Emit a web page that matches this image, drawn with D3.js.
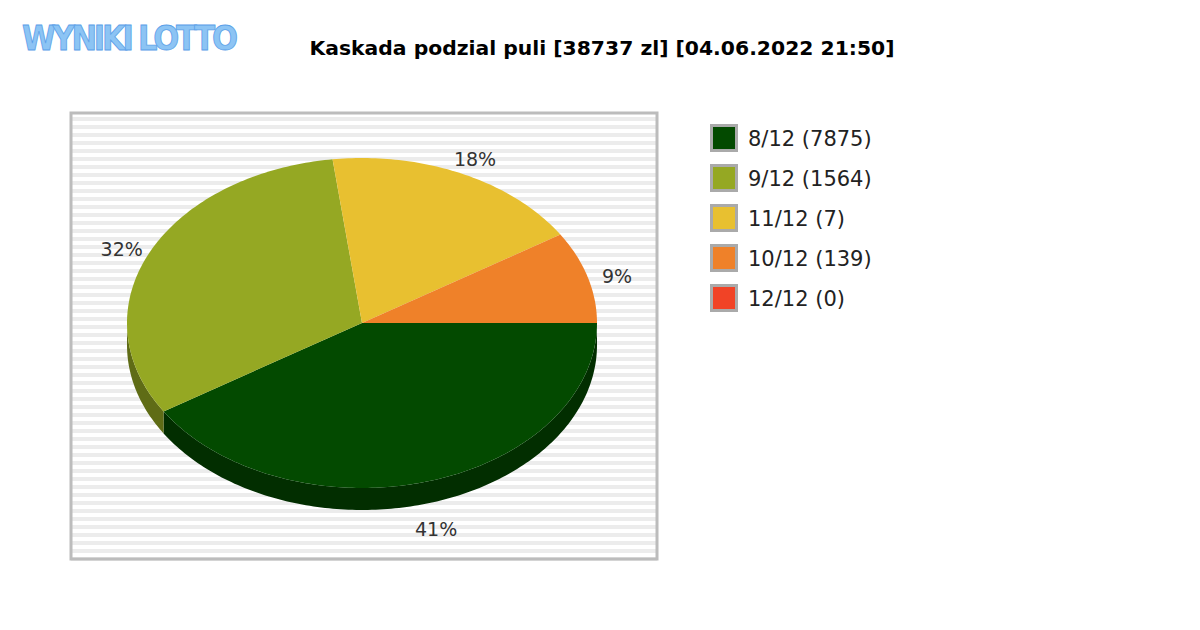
<!DOCTYPE html>
<html><head><meta charset="utf-8">
<script src="https://cdn.jsdelivr.net/npm/d3@7"></script>
<style>body{margin:0;background:#fff}svg{font-family:"DejaVu Sans",sans-serif}</style>
</head><body>
<svg id="chart" width="1200" height="630"></svg>
<script>
var labels = ['8/12 (7875)', '9/12 (1564)', '11/12 (7)', '10/12 (139)', '12/12 (0)'];
var shares = [41, 32, 18, 9, 0];
var colors = ['#034a00', '#95a823', '#e8c030', '#ef8129', '#f14326'];
var sides = ['#022e00', '#5f6c16', '#94781e', '#985219', '#992a18'];

var svg = d3.select('#chart');
var cx = 362, cy = 323, rx = 235, ry = 165, depth = 22;

// logo
svg.append('text').attr('x', 22).attr('y', 50)
    .attr('font-size', 34).attr('font-weight', 'bold')
    .attr('font-family', 'DejaVu Sans Condensed, sans-serif')
    .attr('fill', '#8cc4f4').attr('stroke', '#5aa0e8').attr('stroke-width', 0.8)
    .attr('textLength', 216).attr('lengthAdjust', 'spacing').text('WYNIKI  LOTTO');

svg.append('text').attr('x', 602).attr('y', 55).attr('text-anchor', 'middle')
    .attr('font-size', 19).attr('font-weight', 'bold')
    .attr('textLength', 585).attr('lengthAdjust', 'spacingAndGlyphs')
    .text('Kaskada podzial puli [38737 zl] [04.06.2022 21:50]');

// plot box with stripes
var bx = 71, by = 113, bw = 586, bh = 446;
svg.append('rect').attr('x', bx).attr('y', by).attr('width', bw).attr('height', bh).attr('fill', '#ffffff');
svg.append('g').selectAll('rect').data(d3.range(by + 4, by + bh, 8)).join('rect')
    .attr('x', bx).attr('y', d => d).attr('width', bw).attr('height', 4).attr('fill', '#ececec');
svg.append('rect').attr('x', bx).attr('y', by).attr('width', bw).attr('height', bh)
    .attr('fill', 'none').attr('stroke', '#bcbcbc').attr('stroke-width', 3);

var pie = d3.pie().sort(null).startAngle(0).endAngle(2 * Math.PI);
var arcs = pie(shares);

function pt(a, dz) { return [cx + rx * Math.cos(a), cy + ry * Math.sin(a) + (dz || 0)]; }
function arcPts(a0, a1, dz) {
    var n = Math.max(2, Math.ceil((a1 - a0) * 60));
    return d3.range(n + 1).map(i => pt(a0 + (a1 - a0) * i / n, dz));
}
var line = d3.line();

// side walls (front half only)
arcs.forEach(function (d, i) {
    var a0 = Math.max(d.startAngle, 0), a1 = Math.min(d.endAngle, Math.PI);
    if (a1 <= a0) return;
    var top = arcPts(a0, a1, 0), bot = arcPts(a0, a1, depth).reverse();
    svg.append('path').attr('d', line(top.concat(bot)) + 'Z').attr('fill', sides[i]);
});

// tops
arcs.forEach(function (d, i) {
    if (d.endAngle - d.startAngle <= 0) return;
    var pts = [[cx, cy]].concat(arcPts(d.startAngle, d.endAngle, 0));
    svg.append('path').attr('d', line(pts) + 'Z').attr('fill', colors[i]);
});

// labels
arcs.forEach(function (d, i) {
    if (shares[i] <= 0) return;
    var m = (d.startAngle + d.endAngle) / 2;
    var x = cx + rx * 1.13 * Math.cos(m), y = cy + ry * 1.13 * Math.sin(m) + (Math.sin(m) > 0 ? depth : 0) + 12;
    svg.append('text').attr('x', x).attr('y', y).attr('text-anchor', 'middle')
        .attr('font-size', 19).attr('fill', '#333').text(shares[i] + '%');
});

// legend
var lg = svg.append('g').selectAll('g').data(labels).join('g')
    .attr('transform', (d, i) => 'translate(710,' + (124 + i * 40) + ')');
lg.append('rect').attr('width', 28).attr('height', 28).attr('fill', '#aaa');
lg.append('rect').attr('x', 3).attr('y', 3).attr('width', 22).attr('height', 22).attr('fill', (d, i) => colors[i]);
lg.append('text').attr('x', 38).attr('y', 22).attr('font-size', 21).attr('fill', '#222').text(d => d);
</script>
</body></html>
